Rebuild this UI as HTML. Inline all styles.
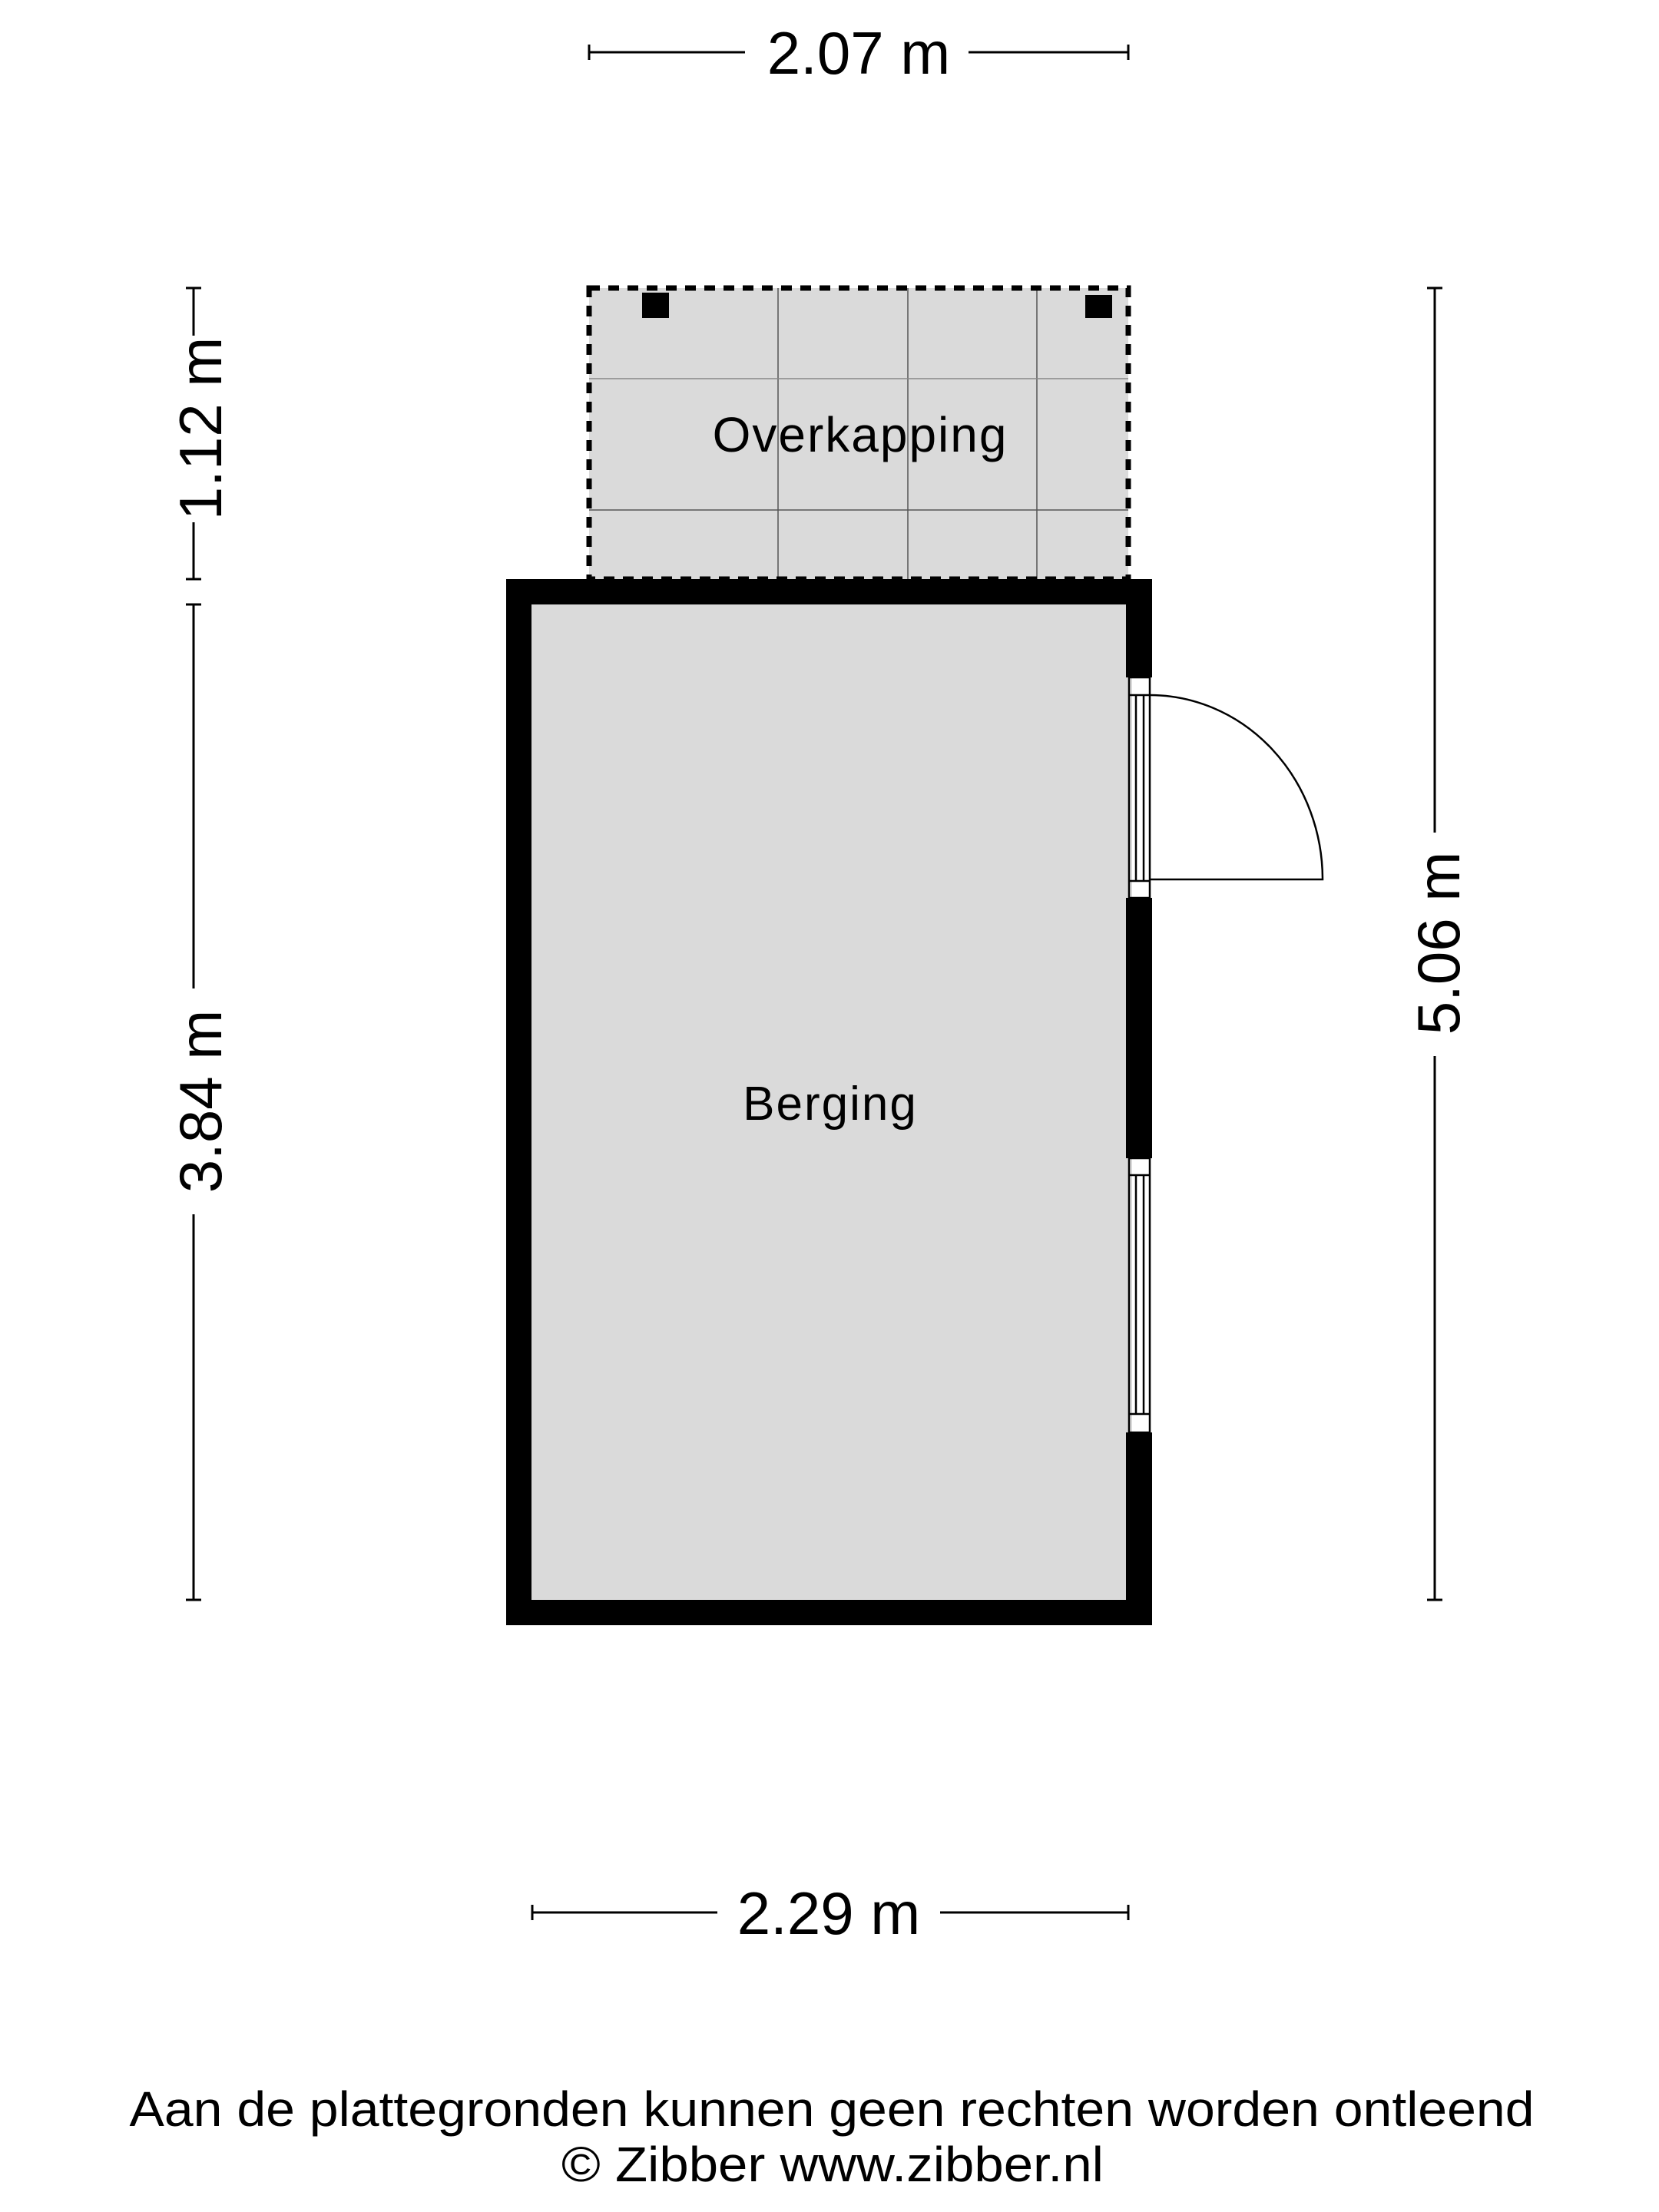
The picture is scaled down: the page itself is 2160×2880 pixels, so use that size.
<!DOCTYPE html>
<html><head><meta charset="utf-8"><style>html,body{margin:0;padding:0;background:#fff}svg{display:block}</style></head>
<body>
<svg width="2160" height="2880" viewBox="0 0 2160 2880" xmlns="http://www.w3.org/2000/svg" font-family="Liberation Sans, Arial, sans-serif">
<rect width="2160" height="2880" fill="#fff"/>
<!-- Overkapping -->
<rect x="767" y="375" width="702" height="379" fill="#dadada"/>
<g stroke="#555" stroke-width="1.5">
<line x1="1013" y1="375" x2="1013" y2="754"/><line x1="1182" y1="375" x2="1182" y2="754"/><line x1="1350" y1="375" x2="1350" y2="754"/>
<line x1="767" y1="493" x2="1469" y2="493" stroke="#888"/><line x1="767" y1="664" x2="1469" y2="664"/>
</g>
<rect x="767" y="375" width="702" height="379" fill="none" stroke="#000" stroke-width="7" stroke-dasharray="14,11"/>
<rect x="836" y="381" width="35" height="33" fill="#000"/>
<rect x="1413" y="384" width="35" height="30" fill="#000"/>
<text x="1120" y="588" font-size="64" text-anchor="middle" letter-spacing="2">Overkapping</text>
<!-- Berging -->
<rect x="659" y="754" width="841" height="1362" fill="#000"/>
<rect x="692" y="787" width="774" height="1296" fill="#dadada"/>
<rect x="1466" y="882" width="34" height="287" fill="#fff"/>
<rect x="1466" y="1508" width="34" height="357" fill="#fff"/>
<rect x="1466" y="882" width="8" height="287" fill="#dadada"/>
<rect x="1466" y="1508" width="8" height="357" fill="#dadada"/>
<g stroke="#000" stroke-width="2.5" fill="none">
<rect x="1470" y="882" width="27" height="287"/>
<line x1="1470" y1="905" x2="1497" y2="905"/><line x1="1470" y1="1147" x2="1497" y2="1147"/>
<line x1="1479" y1="905" x2="1479" y2="1147"/><line x1="1489" y1="905" x2="1489" y2="1147"/>
<rect x="1470" y="1508" width="27" height="357"/>
<line x1="1470" y1="1530" x2="1497" y2="1530"/><line x1="1470" y1="1841" x2="1497" y2="1841"/>
<line x1="1479" y1="1530" x2="1479" y2="1841"/><line x1="1489" y1="1530" x2="1489" y2="1841"/>
<path d="M1497 905 A225 240 0 0 1 1722 1145 L1497 1145"/>
</g>
<text x="1081" y="1458" font-size="62" text-anchor="middle" letter-spacing="2">Berging</text>
<!-- Dimensions -->
<g stroke="#000" stroke-width="3">
<line x1="767" y1="68" x2="970" y2="68"/><line x1="1261" y1="68" x2="1469" y2="68"/>
<line x1="767" y1="58" x2="767" y2="78"/><line x1="1469" y1="58" x2="1469" y2="78"/>
<line x1="693" y1="2490" x2="934" y2="2490"/><line x1="1224" y1="2490" x2="1469" y2="2490"/>
<line x1="693" y1="2480" x2="693" y2="2500"/><line x1="1469" y1="2480" x2="1469" y2="2500"/>
<line x1="252" y1="375" x2="252" y2="437"/><line x1="252" y1="680" x2="252" y2="754"/>
<line x1="242" y1="375" x2="262" y2="375"/><line x1="242" y1="754" x2="262" y2="754"/>
<line x1="252" y1="787" x2="252" y2="1287"/><line x1="252" y1="1581" x2="252" y2="2083"/>
<line x1="242" y1="787" x2="262" y2="787"/><line x1="242" y1="2083" x2="262" y2="2083"/>
<line x1="1868" y1="375" x2="1868" y2="1084"/><line x1="1868" y1="1375" x2="1868" y2="2083"/>
<line x1="1858" y1="375" x2="1878" y2="375"/><line x1="1858" y1="2083" x2="1878" y2="2083"/>
</g>
<g font-size="78" text-anchor="middle">
<text x="1118" y="96">2.07 m</text>
<text x="1079" y="2518">2.29 m</text>
<text transform="translate(288,558) rotate(-90)">1.12 m</text>
<text transform="translate(288,1434) rotate(-90)">3.84 m</text>
<text transform="translate(1900,1228) rotate(-90)">5.06 m</text>
</g>
<g font-size="64" text-anchor="middle">
<text x="1083" y="2768" textLength="1829" lengthAdjust="spacingAndGlyphs">Aan de plattegronden kunnen geen rechten worden ontleend</text>
<text x="1084" y="2840" textLength="706" lengthAdjust="spacingAndGlyphs">© Zibber www.zibber.nl</text>
</g>
</svg>
</body></html>
